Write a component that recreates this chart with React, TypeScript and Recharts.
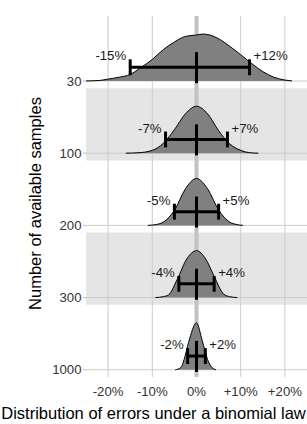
import React from 'react';
import {
  ComposedChart,
  Area,
  XAxis,
  YAxis,
  ReferenceArea,
  ReferenceLine,
  ReferenceDot,
} from 'recharts';

// categories (top to bottom) and 95% error bounds, in %
const sampleSizes = ['30', '100', '200', '300', '1000'];
const errLow = [-15, -7, -5, -4, -2];
const errHigh = [12, 7, 5, 4, 2];
const xTicks = [-20, -10, 0, 10, 20];

// density curves: [error %, height relative to peak]
const density30 = [
  [-25, 0], [-22, 0.01], [-20, 0.04], [-17.5, 0.08], [-15, 0.14], [-12.5, 0.29],
  [-10, 0.46], [-7.5, 0.67], [-5, 0.83], [-2.5, 0.95], [0, 0.98], [1.5, 1],
  [3, 0.98], [5, 0.9], [7.5, 0.74], [10, 0.56], [12.5, 0.37], [15, 0.2],
  [17.5, 0.08], [20, 0.02], [21.6, 0],
];
const density100 = [
  [-16, 0], [-13, 0.01], [-10, 0.06], [-7.5, 0.21], [-5, 0.5], [-2.5, 0.84],
  [0, 1], [2.5, 0.84], [5, 0.48], [7.5, 0.2], [10, 0.06], [12, 0.01], [14, 0],
];
const density200 = [
  [-11, 0], [-9, 0.02], [-7.5, 0.07], [-5, 0.32], [-2.5, 0.78], [0, 1],
  [2.5, 0.78], [5, 0.33], [7.5, 0.07], [9, 0.02], [10.5, 0],
];
const density300 = [
  [-9.3, 0], [-7.5, 0.02], [-6.3, 0.06], [-4.4, 0.38], [-2.1, 0.84], [0, 1],
  [2.1, 0.82], [4, 0.45], [6.2, 0.07], [7.5, 0.02], [9.2, 0],
];
const density1000 = [
  [-4.8, 0], [-3.5, 0.05], [-2.8, 0.22], [-1.8, 0.58], [0, 1], [1.3, 0.62],
  [2.5, 0.22], [3.5, 0.05], [4.4, 0],
];
const densities = [density30, density100, density200, density300, density1000];

const FONT = '"Liberation Sans", Arial, sans-serif';
const ROWS = sampleSizes.length;
const PEAK = 0.65; // curve height in row units
const baseOf = (i: number) => ROWS - i - 0.9;

const fmtPct = (v: number) => (v > 0 ? `+${v}%` : `${v}%`);

const sideLabel = (text: string, side: 'left' | 'right') => (props: any) => {
  const vb = props.viewBox || {};
  const x = (vb.x ?? 0) + (vb.width ?? 0) / 2;
  const y = (vb.y ?? 0) + (vb.height ?? 0) / 2;
  return (
    <text
      x={side === 'left' ? x - 4 : x + 4}
      y={y}
      dy="0.35em"
      textAnchor={side === 'left' ? 'end' : 'start'}
      fontSize={13.2}
      fontFamily={FONT}
      fill="#1a1a1a"
    >
      {text}
    </text>
  );
};

export default function App() {
  return (
    <div style={{ width: 307, height: 424 }}>
      <style>{'body{margin:0}'}</style>
      <ComposedChart
        width={307}
        height={424}
        margin={{ top: 16, right: 0, bottom: 0, left: 0 }}
        style={{ fontFamily: FONT }}
      >
        <XAxis
          type="number"
          dataKey="x"
          domain={[-25, 25]}
          ticks={xTicks}
          tickFormatter={fmtPct}
          axisLine={false}
          tickLine={false}
          tickMargin={4}
          height={47}
          allowDataOverflow
          tick={{ fontSize: 13.2, fill: '#333', fontFamily: FONT }}
          label={(props: any) => (
            <text
              x={153.5}
              y={413}
              dy="0.35em"
              textAnchor="middle"
              fontSize={16.5}
              fontFamily={FONT}
              fill="#000"
            >
              Distribution of errors under a binomial law
            </text>
          )}
        />
        <YAxis
          type="number"
          domain={[0, ROWS]}
          ticks={sampleSizes.map((_, i) => baseOf(i))}
          tickFormatter={(v: number) => sampleSizes[Math.round(ROWS - 0.9 - v)]}
          axisLine={false}
          tickSize={3}
          tickMargin={1.5}
          tickLine={{ stroke: '#bbb' }}
          width={86}
          allowDataOverflow
          tick={{ fontSize: 13.2, fill: '#333', fontFamily: FONT }}
          label={(props: any) => {
            const vb = props.viewBox || { x: 0, y: 16, height: 361 };
            const cx = 35;
            const cy = vb.y + vb.height / 2 + 7;
            return (
              <text
                x={cx}
                y={cy}
                dy="0.35em"
                textAnchor="middle"
                transform={`rotate(-90 ${cx} ${cy})`}
                fontSize={16.5}
                fontFamily={FONT}
                fill="#000"
              >
                Number of available samples
              </text>
            );
          }}
        />

        {/* alternating row bands */}
        {sampleSizes.map((s, i) =>
          i % 2 === 1 ? (
            <ReferenceArea
              key={`band-${s}`}
              x1={-25}
              x2={25}
              y1={ROWS - i - 1}
              y2={ROWS - i}
              fill="#e5e5e5"
              fillOpacity={1}
              stroke="none"
              zIndex={-200}
            />
          ) : null
        )}

        {/* grid */}
        {xTicks.map((t) => (
          <ReferenceLine key={`vx-${t}`} x={t} stroke="#cccccc" strokeWidth={1} zIndex={-150} />
        ))}
        {sampleSizes.map((s, i) => (
          <ReferenceLine key={`hy-${s}`} y={baseOf(i)} stroke="#cccccc" strokeWidth={1} zIndex={-150} />
        ))}
        <ReferenceLine x={0} stroke="#c2c2c2" strokeWidth={4} zIndex={-140} />

        {/* density ridges */}
        {densities.map((d, i) => (
          <Area
            key={`ridge-${sampleSizes[i]}`}
            data={d.map(([x, v]) => ({ x, y: baseOf(i) + v * PEAK }))}
            dataKey="y"
            type="monotone"
            baseValue={baseOf(i)}
            fill="#808080"
            fillOpacity={1}
            stroke="#000"
            strokeWidth={1}
            isAnimationActive={false}
            activeDot={false}
            dot={false}
          />
        ))}

        {/* error bars */}
        {sampleSizes.map((s, i) => {
          const b = baseOf(i);
          const yBar = b + 0.19;
          return (
            <React.Fragment key={`err-${s}`}>
              <ReferenceLine
                segment={[{ x: errLow[i], y: yBar }, { x: errHigh[i], y: yBar }]}
                stroke="#000"
                strokeWidth={3}
                zIndex={500}
              />
              <ReferenceLine
                segment={[{ x: errLow[i], y: yBar - 0.11 }, { x: errLow[i], y: yBar + 0.11 }]}
                stroke="#000"
                strokeWidth={3}
                zIndex={500}
              />
              <ReferenceLine
                segment={[{ x: errHigh[i], y: yBar - 0.11 }, { x: errHigh[i], y: yBar + 0.11 }]}
                stroke="#000"
                strokeWidth={3}
                zIndex={500}
              />
              <ReferenceLine
                segment={[{ x: 0, y: b - 0.03 }, { x: 0, y: b + 0.4 }]}
                stroke="#000"
                strokeWidth={3}
                zIndex={500}
              />
              <ReferenceDot
                x={errLow[i]}
                y={b + 0.35}
                r={0}
                fill="none"
                stroke="none"
                zIndex={600}
                label={sideLabel(fmtPct(errLow[i]), 'left')}
              />
              <ReferenceDot
                x={errHigh[i]}
                y={b + 0.35}
                r={0}
                fill="none"
                stroke="none"
                zIndex={600}
                label={sideLabel(fmtPct(errHigh[i]), 'right')}
              />
            </React.Fragment>
          );
        })}
      </ComposedChart>
    </div>
  );
}
